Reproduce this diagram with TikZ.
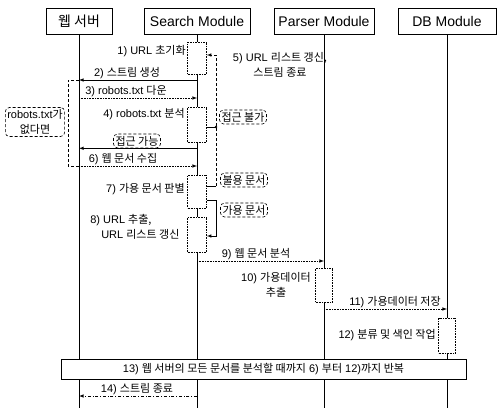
\documentclass[tikz,border=0pt]{standalone}
\usepackage{fontspec}
\setmainfont{Liberation Sans}
\newfontfamily\kr{Noto Sans CJK KR}
\begin{document}
\begin{tikzpicture}[x=1pt, y=-1pt, >=latex, line width=0.6pt,
  head/.style = {draw, minimum height=26pt, font=\fontsize{14}{16}\selectfont},
  act/.style = {draw, densely dotted, fill=white, minimum width=19pt},
  lbl/.style = {inner sep=1pt, font=\fontsize{11}{15}\selectfont},
  note/.style = {draw, densely dashed, rounded corners=4pt, inner sep=2pt, fill=white, font=\fontsize{11}{15}\selectfont}]
\useasboundingbox (0,0) rectangle (499,408);
\coordinate (bot) at (0,408);

% lifelines
\node[head, minimum width=66pt] (web) at (79,21) {\kr 웹 서버};
\node[head, minimum width=106pt] (sm) at (197,21) {Search Module};
\node[head, minimum width=100pt] (pm) at (324,21) {Parser Module};
\node[head, minimum width=98pt] (db) at (447,21) {DB Module};
\foreach \n in {web,sm,pm,db}
  \draw (\n.south) -- (\n |- bot);

% activations
\node[act, minimum height=32pt] (a1) at (197,58) {};
\node[act, minimum height=35pt] (a4) at (197,124.5) {};
\node[act, minimum height=33pt] (a7) at (197,191.5) {};
\node[act, minimum height=35pt] (a8) at (197,234.5) {};
\node[act, minimum width=17pt, minimum height=34pt] (a10) at (324,285) {};
\node[act, minimum width=17pt, minimum height=35pt] (a12) at (447,335.5) {};

% messages
\node[lbl, anchor=east] (m1) at (187,51) {1) URL {\kr 초기화}};
\node[lbl, anchor=south] (m2) at (127,80) {2) {\kr 스트림 생성}};
\draw[->] (sm |- m2.south) -- (web |- m2.south);
\node[lbl, anchor=south] (m3) at (126,98) {3) robots.txt {\kr 다운}};
\draw[->, densely dotted] (web |- m3.south) -- (sm |- m3.south);
\node[lbl, anchor=east] (m4) at (186,114) {4) robots.txt {\kr 분석}};
\node[note] (ok) at (137,141) {\kr 접근 가능};
\draw[->] (sm |- ok.south) -- (web |- ok.south);
\node[lbl, anchor=south] (m6) at (123,166) {6) {\kr 웹 문서 수집}};
\draw[->, densely dotted] (web |- m6.south) -- (sm |- m6.south);

% no robots.txt
\node[note, align=center] (nb) at (35,122) {robots.txt{\kr 가}\\{\kr 없다면}};
\coordinate (b) at (68,0);
\draw[densely dashed] (web |- m2.south) -- (b |- m2.south) -- (b |- m6.south) -- (web |- m6.south);

% back to URL list
\node[lbl, align=center] (m5) at (280,65) {5) URL {\kr 리스트 갱신,}\\{\kr 스트림 종료}};
\node[note] (deny) at (243,117) {\kr 접근 불가};
\node[note] (bad) at (244,180) {\kr 불용 문서};
\node[note] (good) at (244,210) {\kr 가용 문서};
\coordinate (k1) at (216,55);
\coordinate (k4) at (216,127);
\coordinate (k7) at (216,186);
\coordinate (k7b) at (216,200);
\coordinate (k8) at (216,236);
\draw (a4.east |- k4) -- (k4);
\draw (a7.east |- k7) -- (k7);
\draw[->, densely dashed] (k7) -- (k1) -- (a1.east |- k1);
\fill (k4) circle (1.3pt);
\draw[->] (a7.east |- k7b) -- (k7b) -- (k8) -- (a8.east |- k8);

\node[lbl, anchor=east] (m7) at (186,189) {7) {\kr 가용 문서 판별}};
\node[lbl, align=left, anchor=north west] (m8) at (89,213) {8) URL {\kr 추출,}\\\hspace{11pt}URL {\kr 리스트 갱신}};
\node[lbl, anchor=south] (m9) at (256,261) {9) {\kr 웹 문서 분석}};
\draw[->, densely dotted] (sm |- m9.south) -- (pm |- m9.south);
\node[lbl, align=center] (m10) at (276,285) {10) {\kr 가용데이터}\\{\kr 추출}};
\node[lbl, anchor=south] (m11) at (395,309) {11) {\kr 가용데이터 저장}};
\draw[->, densely dotted] (pm |- m11.south) -- (db |- m11.south);
\node[lbl, anchor=east] (m12) at (437,335) {12) {\kr 분류 및 색인 작업}};

% repeat bar
\node[lbl, draw, fill=white, minimum width=405pt, minimum height=20pt] (loop) at (263.5,369)
  {13) {\kr 웹 서버의 모든 문서를 분석할 때까지} 6) {\kr 부터} 12){\kr 까지 반복}};
\node[lbl, anchor=south] (m14) at (137,396) {14) {\kr 스트림 종료}};
\draw[->, dash dot] (sm |- m14.south) -- (web |- m14.south);
\end{tikzpicture}
\end{document}
